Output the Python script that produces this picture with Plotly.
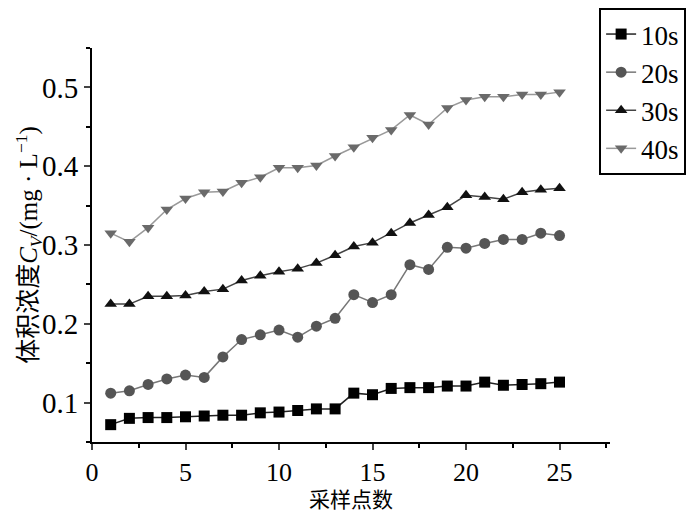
import plotly.graph_objects as go

points = list(range(1, 26))
c_10s = [0.072, 0.080, 0.081, 0.081, 0.082, 0.083, 0.084, 0.084, 0.087, 0.088, 0.090, 0.092, 0.092,
         0.112, 0.110, 0.118, 0.119, 0.119, 0.121, 0.121, 0.126, 0.122, 0.123, 0.124, 0.126]
c_20s = [0.112, 0.115, 0.123, 0.130, 0.135, 0.132, 0.158, 0.180, 0.186, 0.192, 0.183, 0.197, 0.207,
         0.237, 0.227, 0.237, 0.275, 0.269, 0.297, 0.296, 0.302, 0.307, 0.307, 0.315, 0.312]
c_30s = [0.225, 0.225, 0.235, 0.235, 0.236, 0.241, 0.244, 0.255, 0.261, 0.266, 0.270, 0.277, 0.287,
         0.298, 0.303, 0.315, 0.328, 0.338, 0.348, 0.363, 0.361, 0.358, 0.367, 0.370, 0.372]
c_40s = [0.315, 0.304, 0.322, 0.345, 0.359, 0.367, 0.368, 0.379, 0.386, 0.398, 0.398, 0.401, 0.413,
         0.424, 0.436, 0.446, 0.465, 0.453, 0.474, 0.484, 0.488, 0.488, 0.491, 0.491, 0.494]

series = [
    ("10s", c_10s, "square", "#000000", "#222222"),
    ("20s", c_20s, "circle", "#555555", "#777777"),
    ("30s", c_30s, "triangle-up", "#111111", "#444444"),
    ("40s", c_40s, "triangle-down", "#6a6a6a", "#999999"),
]

FONT = "Liberation Serif"

fig = go.Figure()
for name, vals, sym, mcol, lcol in series:
    fig.add_trace(go.Scatter(
        x=points, y=vals, mode="lines+markers", name=name,
        line=dict(color=lcol, width=1.5),
        marker=dict(symbol=sym, size=11, color=mcol),
    ))

axis_common = dict(showline=True, linecolor="black", linewidth=2, ticks="outside",
                   tickwidth=2, ticklen=6, showgrid=False, zeroline=False)

# page has an 8px body margin, so the figure is a bit smaller than the window
fig.update_layout(
    width=692, height=504,
    margin=dict(l=84, r=90, t=40, b=70, autoexpand=False),
    plot_bgcolor="white", paper_bgcolor="white",
    font=dict(family=FONT, color="black"),
    showlegend=True,
    legend=dict(x=0.979, y=1.0, xref="paper", yref="container", xanchor="left", yanchor="top",
                bordercolor="black", borderwidth=2, bgcolor="white",
                font=dict(size=27, family=FONT), tracegroupgap=0, itemwidth=30),
    xaxis=dict(range=[0, 27.7], tickvals=[0, 5, 10, 15, 20, 25],
               tickfont=dict(size=26, color="black", family=FONT),
               minor=dict(dtick=2.5, tick0=0, ticks="outside", ticklen=4, tickwidth=2, tickcolor="black"),
               **axis_common),
    yaxis=dict(range=[0.05, 0.55], tickvals=[0.1, 0.2, 0.3, 0.4, 0.5],
               tickfont=dict(size=29, color="black", family=FONT),
               minor=dict(dtick=0.05, tick0=0.05, ticks="outside", ticklen=4, tickwidth=2, tickcolor="black"),
               title=dict(text="<span style='font-family:Noto Sans CJK SC'>体积浓度</span><i>C</i><sub><i>V</i></sub>/(mg · L<sup>−1</sup>)",
                          font=dict(size=25), standoff=0),
               **axis_common),
    annotations=[dict(text="采样点数", xref="paper", yref="paper", x=0.5, y=-0.1,
                      xanchor="center", yanchor="top", showarrow=False,
                      font=dict(size=21, family="Noto Sans CJK SC"))],
)

fig.write_html("out.html")
